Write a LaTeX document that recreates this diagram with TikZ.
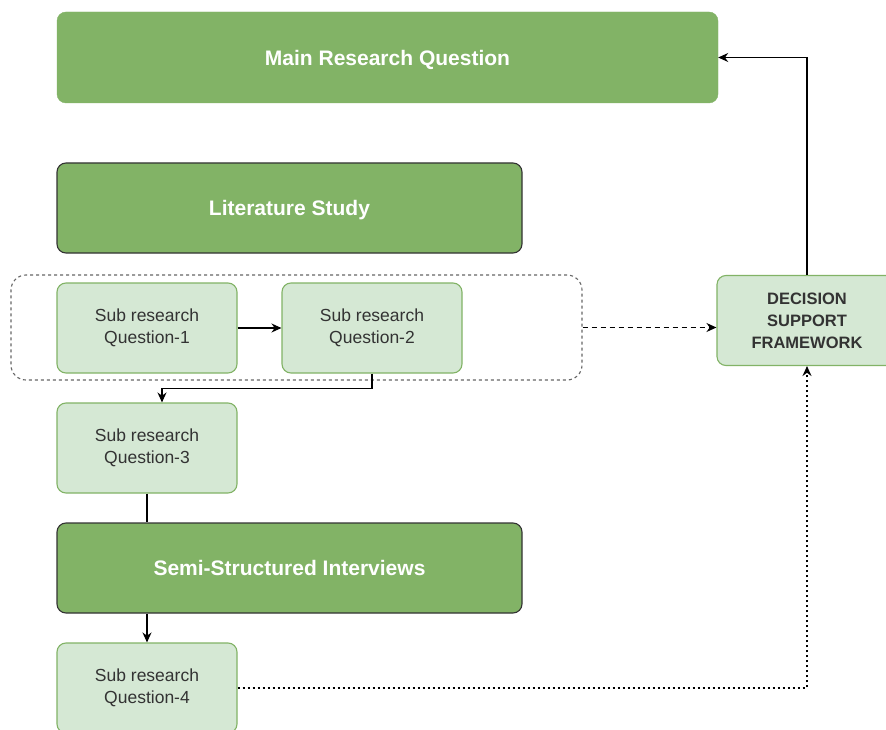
\documentclass[tikz,border=0pt]{standalone}
\usepackage{fontspec}
\setmainfont{Liberation Sans}
\usetikzlibrary{arrows.meta,calc}
\definecolor{gruen}{HTML}{82B366}
\definecolor{hgruen}{HTML}{D5E8D4}
\definecolor{dunkel}{HTML}{333333}
\definecolor{rahmen}{HTML}{666666}
\tikzset{
  haupt/.style={fill=gruen,draw=gruen,rounded corners=9pt,text=white,
    font=\fontsize{21}{25}\selectfont\bfseries,align=center,inner sep=0pt,
    text depth=0pt},
  methode/.style={haupt,draw=dunkel,line width=1.1pt},
  frage/.style={fill=hgruen,draw=gruen,line width=1.1pt,rounded corners=9pt,
    text=dunkel,font=\fontsize{17.5}{22}\selectfont,align=center,
    minimum width=180pt,minimum height=90pt,inner sep=0pt},
  gruppe/.style={draw=rahmen,dashed,line width=1.1pt,rounded corners=15pt,
    minimum width=571pt,minimum height=105pt,inner sep=0pt},
  pfeil/.style={-{Stealth[length=10pt,width=9pt]},line width=1.2pt,black},
  linie/.style={line width=1.2pt,black},
}
\begin{document}
\begin{tikzpicture}[x=1pt,y=-1pt]
  \useasboundingbox (0,0) rectangle (886,730);
  \fill[white] (0,0) rectangle (886,730);
  % Kopf und Methoden
  \node[haupt,minimum width=661pt,minimum height=91pt] (main) at (387.5,57.5) {Main Research Question};
  \node[methode,minimum width=465pt,minimum height=90pt] (lit) at (289.5,208) {Literature Study};
  \node[methode,minimum width=465pt,minimum height=90pt] (semi) at (289.5,568) {Semi-Structured Interviews};
  % Teilfragen
  \node[gruppe] (grp) at (296.5,327.5) {};
  \node[frage] (q1) at (147,328) {Sub research\\Question-1};
  \node[frage] (q2) at (372,328) {Sub research\\Question-2};
  \node[frage] (q3) at (147,448) {Sub research\\Question-3};
  \node[frage] (q4) at (147,688) {Sub research\\Question-4};
  \node[frage,font=\fontsize{16.5}{22}\selectfont\bfseries] (dsf) at (807,320.5) {DECISION\\SUPPORT\\FRAMEWORK};
  % Verbindungen
  \draw[pfeil] (q1) -- (q2);
  \draw[pfeil] (q2.south) -- ++(0,15) -| ([xshift=15pt]q3.north);
  \draw[linie] (q3.south) -- (q3.south |- semi.north);
  \draw[pfeil] (semi.south -| q4.north) -- (q4.north);
  \draw[pfeil,line width=1.5pt,dash pattern=on 2.5pt off 2.5pt] (q4.east) -| (dsf.south);
  \draw[pfeil,dash pattern=on 5pt off 4pt] (grp.east) -- (grp.east -| dsf.west);
  \draw[pfeil] (dsf.north) |- (main.east);
\end{tikzpicture}
\end{document}
